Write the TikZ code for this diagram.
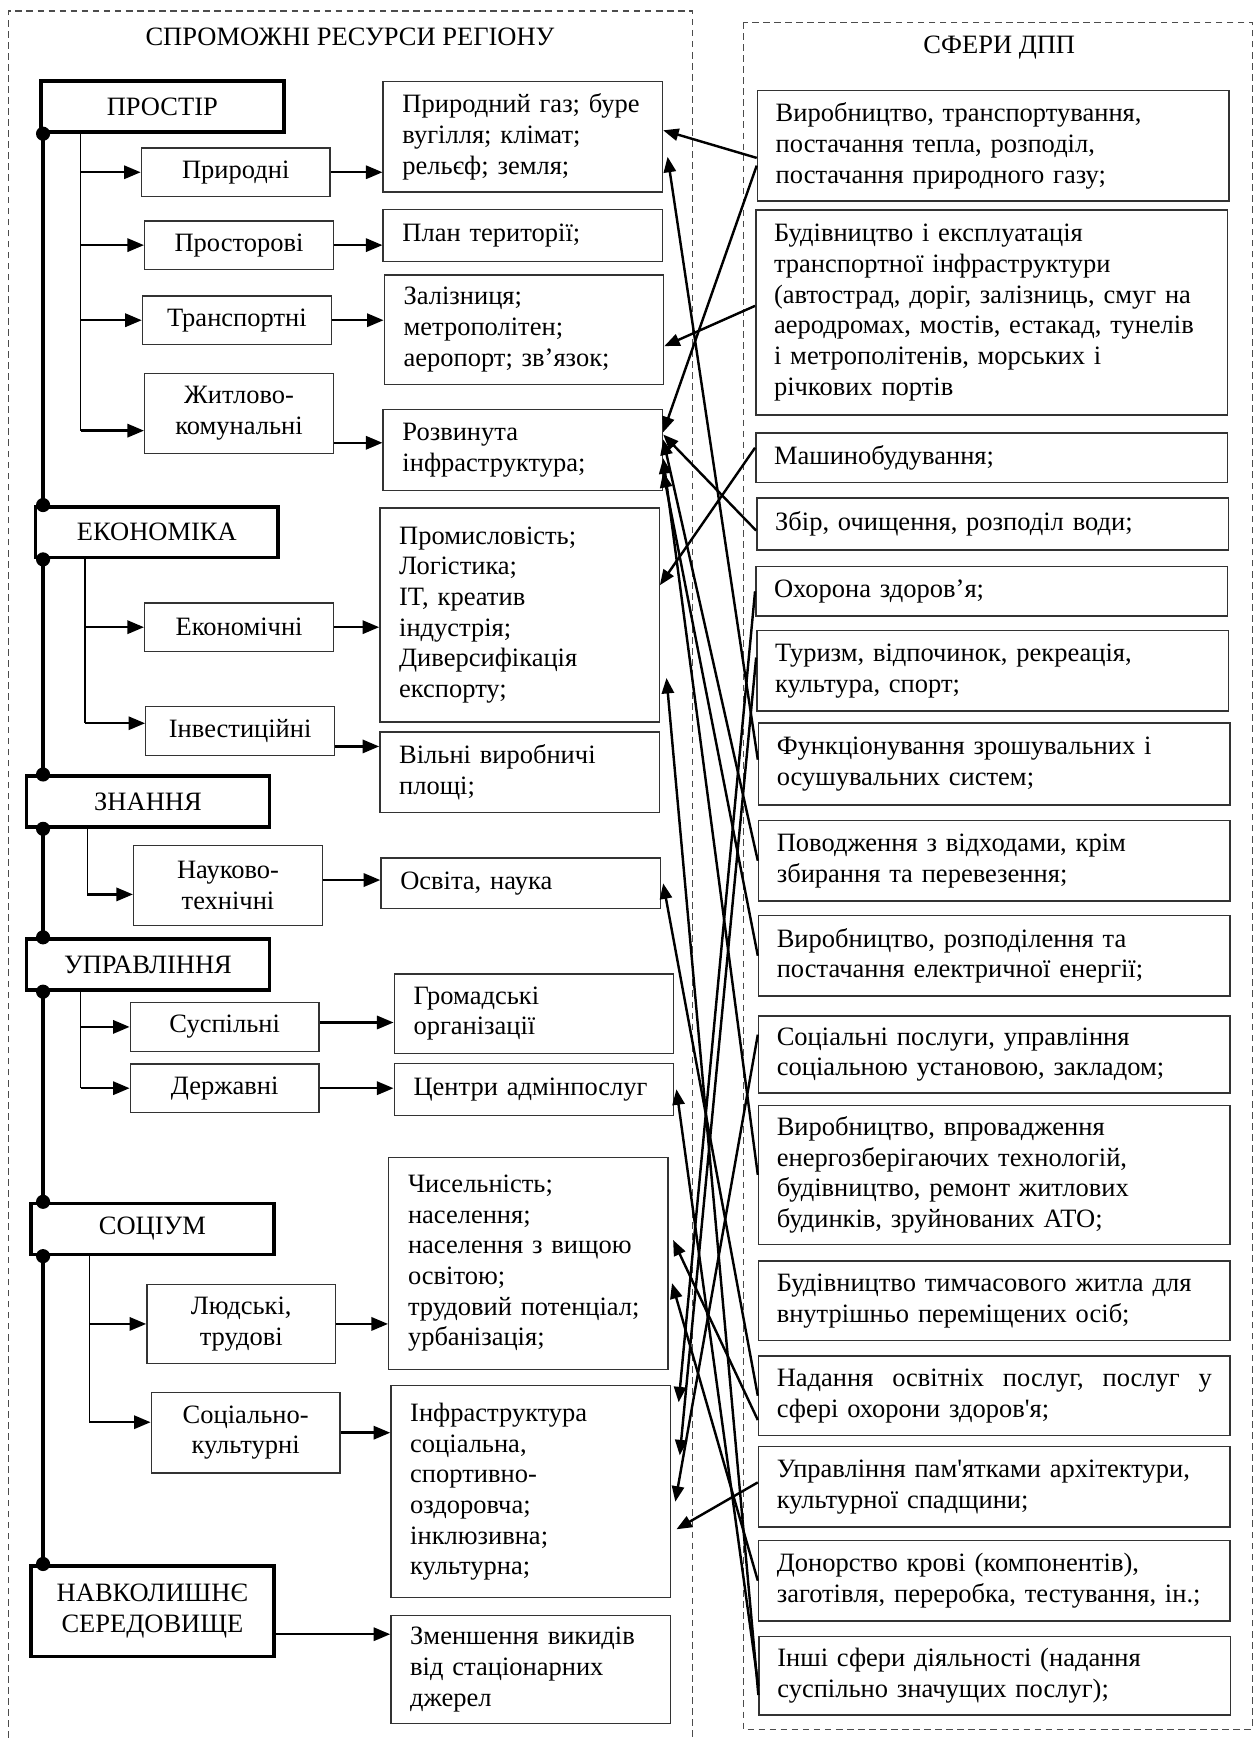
\documentclass[tikz,border=0pt]{standalone}
\usepackage{fontspec}
\setmainfont{Liberation Serif}[Ligatures=TeXOff]
\usetikzlibrary{arrows.meta}
\tikzset{
	every node/.style={font=\fontsize{12}{13.9}\selectfont},
	zone/.style={draw=black!70, line width=0.5pt, dash pattern=on 3pt off 2pt},
	catbox/.style={draw, line width=1.6pt, fill=white, minimum width=110pt, minimum height=23pt, align=center, inner sep=1pt},
	subbox/.style={draw=black!80, line width=0.6pt, fill=white, minimum width=85.5pt, minimum height=22pt, align=center, inner sep=1pt},
	resbox/.style={draw=black!80, line width=0.6pt, fill=white, text width=109pt, inner xsep=8.75pt, align=left},
	sphbox/.style={draw=black!80, line width=0.7pt, fill=white, text width=197pt, inner xsep=8.25pt, align=left},
	spine/.style={line width=1.6pt},
	branch/.style={line width=0.6pt},
	flow/.style={line width=1.1pt, -{Triangle[length=7.5pt,width=6pt]}},
	link/.style={line width=1.1pt, -{Triangle[length=7pt,width=5.5pt]}}
}

\begin{document}
\begin{tikzpicture}[x=0.5pt, y=-0.5pt]
		%%%%% START %%%%%
		\useasboundingbox (0,0) rectangle (1140,1574);
		
		\draw[zone] (8,1574) -- (8,10) -- (627,10) -- (627,1574);
		\draw[zone] (673,20) rectangle (1134,1566);
		\node (ttlres) at (317,33) {СПРОМОЖНІ РЕСУРСИ РЕГІОНУ};
		\node (ttlsph) at (905,43) {СФЕРИ ДПП};
		
		\node[catbox] (prostir) at (147,96.5) {ПРОСТІР};
		\node[catbox] (ekonomika) at (142,482) {ЕКОНОМІКА};
		\node[catbox] (znannya) at (134,726) {ЗНАННЯ};
		\node[catbox] (upravl) at (134,873.5) {УПРАВЛІННЯ};
		\node[catbox] (sotsium) at (138,1113) {СОЦІУМ};
		\node[catbox, minimum height=41pt] (dovkillya) at (138,1459) {НАВКОЛИШНЄ\\СЕРЕДОВИЩЕ};
		
		\coordinate (sp) at (39,0);
		\draw[spine] (sp |- prostir.south) -- (sp |- ekonomika.north);
		\draw[spine] (sp |- ekonomika.south) -- (sp |- znannya.north);
		\draw[spine] (sp |- znannya.south) -- (sp |- upravl.north);
		\draw[spine] (sp |- upravl.south) -- (sp |- sotsium.north);
		\draw[spine] (sp |- sotsium.south) -- (sp |- dovkillya.north);
		\fill (sp |- prostir.south) circle (3.2pt);
		\fill (sp |- ekonomika.north) circle (3.2pt);
		\fill (sp |- ekonomika.south) circle (3.2pt);
		\fill (sp |- znannya.north) circle (3.2pt);
		\fill (sp |- znannya.south) circle (3.2pt);
		\fill (sp |- upravl.north) circle (3.2pt);
		\fill (sp |- upravl.south) circle (3.2pt);
		\fill (sp |- sotsium.north) circle (3.2pt);
		\fill (sp |- sotsium.south) circle (3.2pt);
		\fill (sp |- dovkillya.north) circle (3.2pt);
		
		\node[subbox] (pryrodni) at (213.5,156) {Природні};
		\node[subbox] (prostorovi) at (216.5,222) {Просторові};
		\node[subbox] (transp) at (214.5,290) {Транспортні};
		\node[subbox, minimum height=36.5pt] (zhytlo) at (216.5,374.5) {Житлово-\\комунальні};
		\node[subbox] (ekonom) at (216.5,568) {Економічні};
		\node[subbox] (invest) at (217.5,662) {Інвестиційні};
		\node[subbox, minimum height=36pt] (naukovo) at (206.5,802) {Науково-\\технічні};
		\node[subbox] (suspilni) at (203.5,930) {Суспільні};
		\node[subbox] (derzhavni) at (203.5,985.5) {Державні};
		\node[subbox, minimum height=36pt] (lyudski) at (218.5,1199) {Людські,\\трудові};
		\node[subbox, minimum height=36.5pt] (sotskult) at (222.5,1297.5) {Соціально-\\культурні};
		
		\node[resbox, minimum height=50pt] (g1) at (473.5,124) {Природний газ; буре\\вугілля; клімат;\\рельєф; земля;};
		\node[resbox, minimum height=23.5pt] (g2) at (473.5,213.5) {План території;};
		\node[resbox, minimum height=49.5pt] (g3) at (474.5,298.5) {Залізниця;\\метрополітен;\\аеропорт; зв’язок;};
		\node[resbox, minimum height=36.5pt] (g4) at (473.5,407.5) {Розвинута\\інфраструктура;};
		\node[resbox, minimum height=97pt] (g5) at (470.5,557) {Промисловість;\\Логістика;\\IT, креатив\\індустрія;\\Диверсифікація\\експорту;};
		\node[resbox, minimum height=36.5pt] (g6) at (470.5,699.5) {Вільні виробничі\\площі;};
		\node[resbox, minimum height=23pt] (g7) at (471.5,800) {Освіта, наука};
		\node[resbox, minimum height=36pt] (g8) at (483.5,918) {Громадські\\організації};
		\node[resbox, minimum height=23.5pt] (g9) at (483.5,986.5) {Центри адмінпослуг};
		\node[resbox, minimum height=96pt] (g10) at (478.5,1144) {Чисельність;\\населення;\\населення з вищою\\освітою;\\трудовий потенціал;\\урбанізація;};
		\node[resbox, minimum height=96pt] (g11) at (480.5,1351) {Інфраструктура\\соціальна,\\спортивно-\\оздоровча;\\інклюзивна;\\культурна;};
		\node[resbox, minimum height=49pt] (g12) at (480.5,1512) {Зменшення викидів\\від стаціонарних\\джерел};
		
		\node[sphbox, minimum height=50pt] (r1) at (899.5,132) {Виробництво, транспортування,\\постачання тепла, розподіл,\\постачання природного газу;};
		\node[sphbox, minimum height=93pt] (r2) at (898,283) {Будівництво і експлуатація\\транспортної інфраструктури\\(автострад, доріг, залізниць, смуг на\\аеродромах, мостів, естакад, тунелів\\і метрополітенів, морських і\\річкових портів};
		\node[sphbox, minimum height=22.5pt] (r3) at (898,414.5) {Машинобудування;};
		\node[sphbox, minimum height=23.5pt] (r4) at (899,474.5) {Збір, очищення, розподіл води;};
		\node[sphbox, minimum height=22.5pt] (r5) at (898,535.5) {Охорона здоров’я;};
		\node[sphbox, minimum height=36.5pt] (r6) at (899,607.5) {Туризм, відпочинок, рекреація,\\культура, спорт;};
		\node[sphbox, minimum height=37pt] (r7) at (900.5,692) {Функціонування зрошувальних і\\осушувальних систем;};
		\node[sphbox, minimum height=36.5pt] (r8) at (900.5,779.5) {Поводження з відходами, крім\\збирання та перевезення;};
		\node[sphbox, minimum height=36.5pt] (r9) at (900.5,865.5) {Виробництво, розподілення та\\постачання електричної енергії;};
		\node[sphbox, minimum height=35pt] (r10) at (900.5,955) {Соціальні послуги, управління\\соціальною установою, закладом;};
		\node[sphbox, minimum height=63pt] (r11) at (900.5,1064) {Виробництво, впровадження\\енергозберігаючих технологій,\\будівництво, ремонт житлових\\будинків, зруйнованих АТО;};
		\node[sphbox, minimum height=36pt] (r12) at (900.5,1178) {Будівництво тимчасового житла для\\внутрішньо переміщених осіб;};
		\node[sphbox, minimum height=36pt] (r13) at (900.5,1264) {Надання\hfill освітніх\hfill послуг,\hfill послуг\hfill у\\сфері охорони здоров'я;};
		\node[sphbox, minimum height=36.5pt] (r14) at (900.5,1346.5) {Управління пам'ятками архітектури,\\культурної спадщини;};
		\node[sphbox, minimum height=36.5pt] (r15) at (900.5,1431.5) {Донорство крові (компонентів),\\заготівля, переробка, тестування, ін.;};
		\node[sphbox, minimum height=35.5pt] (r16) at (901,1517.5) {Інші сфери діяльності (надання\\суспільно значущих послуг);};
		
		\coordinate (bp) at (73,0);
		\coordinate (zhin) at ([yshift=-7.75pt]zhytlo.west);
		\draw[branch] (bp |- prostir.south) -- (bp |- zhin);
		\draw[flow] (bp |- pryrodni.west) -- (pryrodni.west);
		\draw[flow] (bp |- prostorovi.west) -- (prostorovi.west);
		\draw[flow] (bp |- transp.west) -- (transp.west);
		\draw[flow] (bp |- zhin) -- (zhin);
		
		\coordinate (be) at (77,0);
		\coordinate (inin) at ([yshift=3.5pt]invest.west);
		\draw[branch] (be |- ekonomika.south) -- (be |- inin);
		\draw[flow] (be |- ekonom.west) -- (ekonom.west);
		\draw[flow] (be |- inin) -- (inin);
		
		\coordinate (bz) at (79,0);
		\coordinate (nain) at ([yshift=-4pt]naukovo.west);
		\draw[branch] (bz |- znannya.south) -- (bz |- nain);
		\draw[flow] (bz |- nain) -- (nain);
		
		\coordinate (bu) at (73,0);
		\draw[branch] (bu |- upravl.south) -- (bu |- derzhavni.west);
		\draw[flow] (bu |- suspilni.west) -- (suspilni.west);
		\draw[flow] (bu |- derzhavni.west) -- (derzhavni.west);
		
		\coordinate (bs) at (81,0);
		\coordinate (skin) at ([yshift=4.75pt]sotskult.west);
		\draw[branch] (bs |- sotsium.south) -- (bs |- skin);
		\draw[flow] (bs |- lyudski.west) -- (lyudski.west);
		\draw[flow] (bs |- skin) -- (skin);
		
		\coordinate (zhout) at ([yshift=-13.25pt]zhytlo.east);
		\coordinate (inout) at ([yshift=-7pt]invest.east);
		\coordinate (naout) at ([yshift=2.5pt]naukovo.east);
		\coordinate (suout) at ([yshift=2pt]suspilni.east);
		\coordinate (dvout) at ([yshift=-10.5pt]dovkillya.east);
		\draw[flow] (pryrodni.east) -- (pryrodni.east -| g1.west);
		\draw[flow] (prostorovi.east) -- (prostorovi.east -| g2.west);
		\draw[flow] (transp.east) -- (transp.east -| g3.west);
		\draw[flow] (zhout) -- (zhout -| g4.west);
		\draw[flow] (ekonom.east) -- (ekonom.east -| g5.west);
		\draw[flow] (inout) -- (inout -| g6.west);
		\draw[flow] (naout) -- (naout -| g7.west);
		\draw[flow] (suout) -- (suout -| g8.west);
		\draw[flow] (derzhavni.east) -- (derzhavni.east -| g9.west);
		\draw[flow] (lyudski.east) -- (lyudski.east -| g10.west);
		\draw[flow] (sotskult.east) -- (sotskult.east -| g11.west);
		\draw[flow] (dvout) -- (dvout -| g12.west);
		
		\draw[link] ([yshift=-5.5pt]r1.west) -- ([yshift=3pt]g1.east);
		\draw[link] ([yshift=-9pt]r1.west) -- ([yshift=8pt]g4.east);
		\draw[link] ([yshift=3pt]r2.west) -- ([yshift=-7.5pt]g3.east);
		\draw[link] ([yshift=4.5pt]r3.west) -- ([yshift=13.5pt]g5.east);
		\draw[link] ([yshift=-3pt]r4.west) -- ([yshift=7pt]g4.east);
		\draw[link] (r5.west) -- ([xshift=3.5pt,yshift=40.5pt]g11.east);
		\draw[link] ([yshift=6pt]r6.west) -- ([xshift=4pt,yshift=16.5pt]g11.east);
		\draw[link] ([yshift=2pt]r7.west) -- ([xshift=2pt,yshift=-9pt]g1.east);
		\draw[link] (r8.west) -- ([yshift=4.75pt]g4.east);
		\draw[link] (r9.west) -- ([yshift=-10pt]g4.east);
		\draw[link] ([yshift=9pt]r10.west) -- ([xshift=2pt,yshift=-4.5pt]g11.east);
		\draw[link] (r11.west) -- ([yshift=-3.75pt]g4.east);
		\draw[link] (r13.west) -- ([xshift=1pt]g7.east);
		\draw[link] ([yshift=-11pt]r13.west) -- ([xshift=2pt,yshift=10.5pt]g10.east);
		\draw[link] ([yshift=2pt]r14.west) -- ([xshift=2.5pt,yshift=-17pt]g11.east);
		\draw[link] (r15.west) -- ([xshift=1.5pt,yshift=-9pt]g10.east);
		\draw[link] ([yshift=-4.75pt]r16.west) -- ([xshift=1pt]g9.east);
		\draw[link] ([yshift=-8.75pt]r16.west) -- ([xshift=3pt,yshift=-28.5pt]g5.east);
		
		%%%%% END %%%%%
\end{tikzpicture}
\end{document}
